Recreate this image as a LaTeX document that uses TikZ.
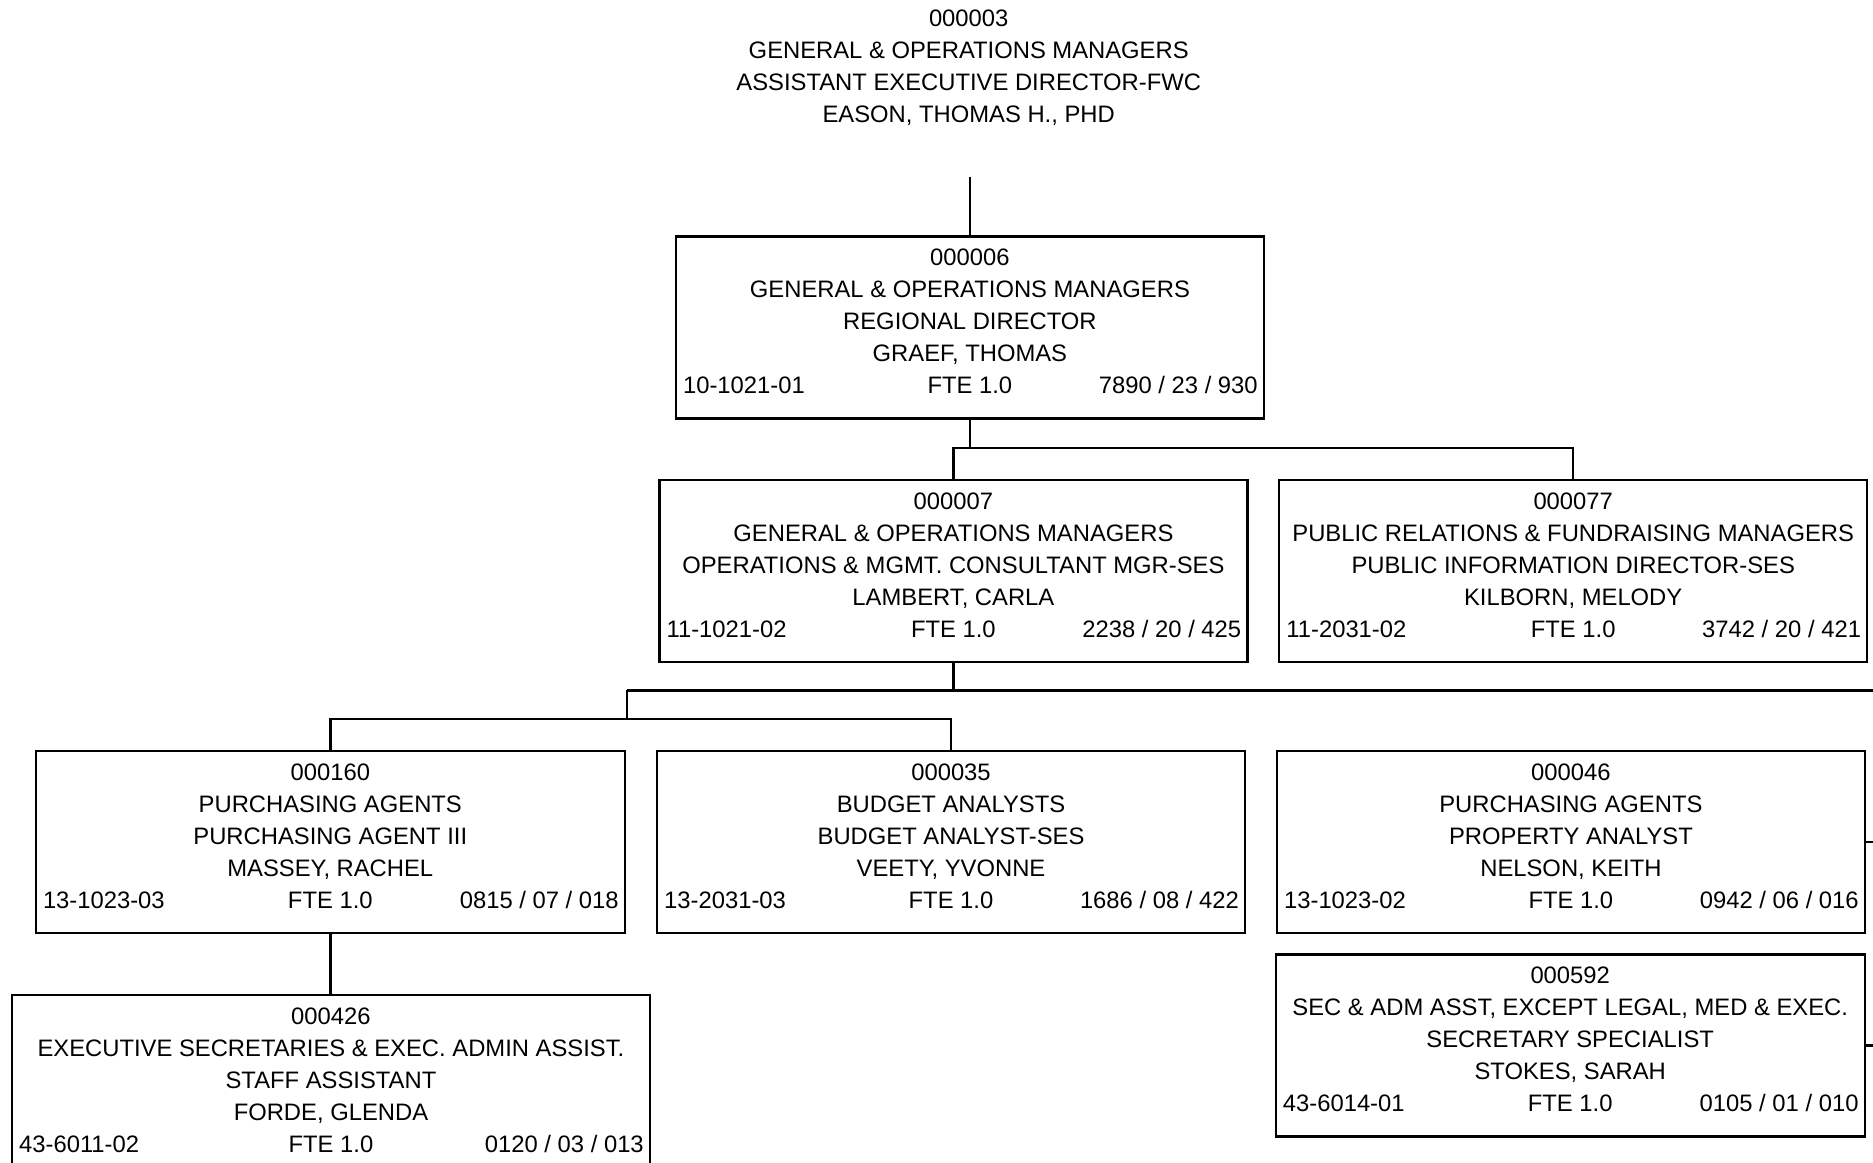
\documentclass[tikz,border=0pt]{standalone}
\usepackage{fontspec}
\setmainfont{Liberation Sans}
\usetikzlibrary{calc}

\tikzset{
  orgframe/.style={draw=black, line width=1.2pt, rectangle, anchor=north west,
    inner sep=0pt, minimum height=91pt},
  orgtext/.style={inner sep=0pt, text height=8.5pt, text depth=0pt,
    font=\fontsize{11.9pt}{14pt}\selectfont},
  link/.style={draw=black, line width=1.2pt}
}

% One position box: [width]{name}{top-left corner}{id}{category}{title}{person}{code}{grade}
\newcommand\orgbox[9][588]{%
  \node[orgframe, minimum width=#1*0.5pt] (#2) at (#3) {};
  \node[orgtext] (#2-id)    at ($(#2.north)+(0,22)$)  {#4};
  \node[orgtext] (#2-cat)   at ($(#2.north)+(0,54)$)  {#5};
  \node[orgtext] (#2-title) at ($(#2.north)+(0,86)$)  {#6};
  \node[orgtext] (#2-name)  at ($(#2.north)+(0,118)$) {#7};
  \node[orgtext] (#2-fte)   at ($(#2.north)+(0,150)$) {FTE 1.0};
  \node[orgtext, anchor=west] (#2-code) at ($(#2.north west)+(8,150)$) {#8};
  \orgboxgrade{#2}{#9}%
}
\newcommand\orgboxgrade[2]{%
  \node[orgtext, anchor=east] (#1-grade) at ($(#1.north east)+(-7,150)$) {#2};
}

\begin{document}
\begin{tikzpicture}[x=0.5pt, y=-0.5pt]
  \useasboundingbox (0,0) rectangle (1873,1162);
  \fill[white] (0,0) rectangle (1873,1162);
  \clip (0,0) rectangle (1873,1162);

  % head of the chart, printed without a frame
  \node[orgtext] (top-id)    at (968.7,18)    {000003};
  \node[orgtext] (top-cat)   at (968.7,49.5)  {GENERAL \& OPERATIONS MANAGERS};
  \node[orgtext] (top-title) at (968.7,81.5)  {ASSISTANT EXECUTIVE DIRECTOR-FWC};
  \node[orgtext] (top-name)  at (968.7,113.5) {EASON, THOMAS H., PHD};

  \orgbox{A}{674.7,235.3}{000006}{GENERAL \& OPERATIONS MANAGERS}{REGIONAL DIRECTOR}{GRAEF, THOMAS}{10-1021-01}{7890 / 23 / 930}
  \orgbox{B}{658.2,479}{000007}{GENERAL \& OPERATIONS MANAGERS}{OPERATIONS \& MGMT. CONSULTANT MGR-SES}{LAMBERT, CARLA}{11-1021-02}{2238 / 20 / 425}
  \orgbox{C}{1278,479}{000077}{PUBLIC RELATIONS \& FUNDRAISING MANAGERS}{PUBLIC INFORMATION DIRECTOR-SES}{KILBORN, MELODY}{11-2031-02}{3742 / 20 / 421}
  \orgbox[589]{D}{34.6,750}{000160}{PURCHASING AGENTS}{PURCHASING AGENT III}{MASSEY, RACHEL}{13-1023-03}{0815 / 07 / 018}
  \orgbox{E}{655.8,750}{000035}{BUDGET ANALYSTS}{BUDGET ANALYST-SES}{VEETY, YVONNE}{13-2031-03}{1686 / 08 / 422}
  \orgbox{F}{1275.7,750}{000046}{PURCHASING AGENTS}{PROPERTY ANALYST}{NELSON, KEITH}{13-1023-02}{0942 / 06 / 016}
  \orgbox[589]{G}{1274.5,953.2}{000592}{SEC \& ADM ASST, EXCEPT LEGAL, MED \& EXEC.}{SECRETARY SPECIALIST}{STOKES, SARAH}{43-6014-01}{0105 / 01 / 010}
  \orgbox[638]{H}{10.75,993.5}{000426}{EXECUTIVE SECRETARIES \& EXEC. ADMIN ASSIST.}{STAFF ASSISTANT}{FORDE, GLENDA}{43-6011-02}{0120 / 03 / 013}

  % connector levels
  \coordinate (top-link) at ($(A.north)+(0,-58.5)$);
  \coordinate (bar1)  at (0,448);
  \coordinate (bar2L) at (627,690.4);
  \coordinate (bar2R) at (1873,690.4);
  \coordinate (bar3)  at (0,719);

  \draw[link] (top-link) -- (A.north);
  \draw[link] (A.south) -- (A.south |- bar1);
  \draw[link] (B.north) -- (B.north |- bar1) -- (C.north |- bar1) -- (C.north);
  \draw[link] (B.south) -- (B.south |- bar2L);
  \draw[link] (bar2L) -- (bar2R);
  \draw[link] (bar2L) -- (bar2L |- bar3);
  \draw[link] (D.north) -- (D.north |- bar3) -- (E.north |- bar3) -- (E.north);
  \draw[link] (D.south) -- (D.south |- H.north);
  \draw[link] (F.east) -- (F.east -| bar2R);
  \draw[link] (G.east) -- (G.east -| bar2R);
\end{tikzpicture}
\end{document}
